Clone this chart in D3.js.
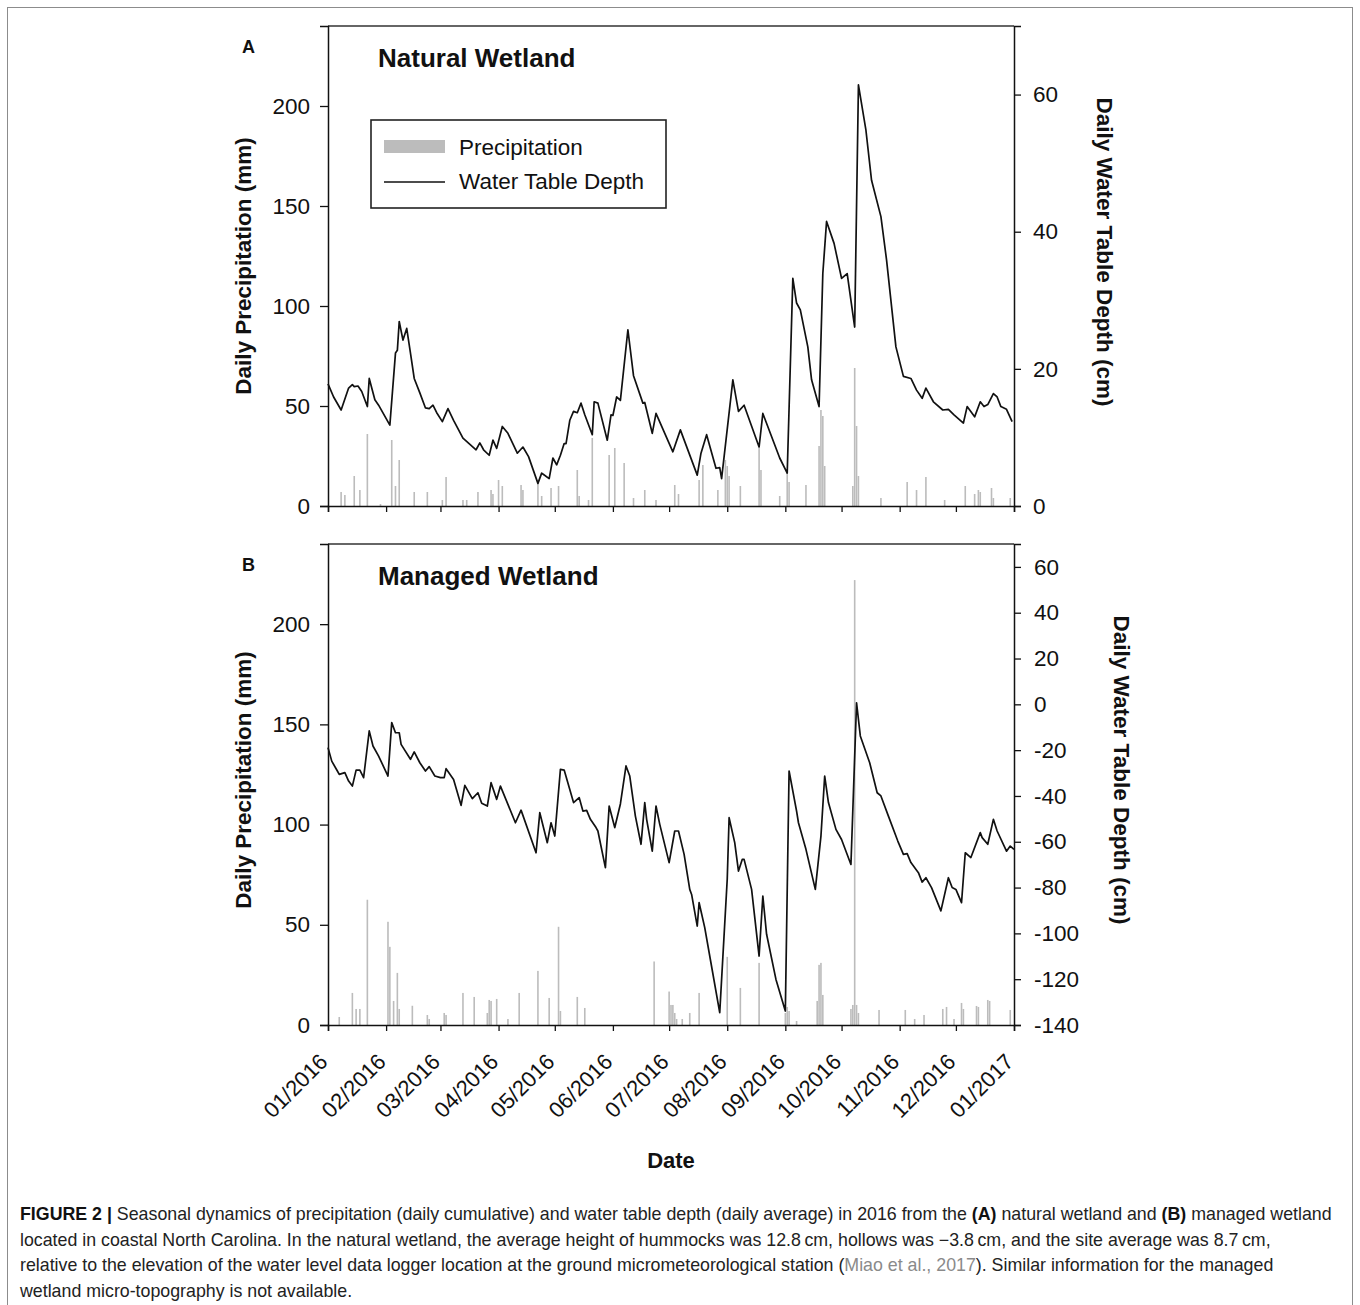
<!DOCTYPE html>
<html>
<head>
<meta charset="utf-8">
<script src="https://cdn.jsdelivr.net/npm/d3@7"></script>
<style>
  html, body { margin: 0; padding: 0; background: #fff; }
  svg { display: block; font-family: "Liberation Sans", Arial, Helvetica, sans-serif; }
</style>
</head>
<body>
<svg id="fig" width="1360" height="1305"></svg>
<script>
// ---- Data -----------------------------------------------------------------
// Daily precipitation (mm): day of year (0 = 1 Jan 2016) and amount.
const precipDaysA = [7, 9, 14, 17, 21, 28, 34, 36, 38, 46, 53, 61, 63, 72, 74, 80, 87, 88, 91, 93,
  103, 104, 112, 114, 119, 123, 133, 134, 139, 141, 150, 153, 158, 163, 169, 175, 185, 187, 198, 200,
  208, 212, 213, 214, 220, 230, 231, 241, 245, 246, 255, 262, 263, 264, 265, 280, 281, 282, 283, 295,
  309, 314, 319, 329, 340, 345, 347, 348, 354, 355, 364];
const precipA = [7, 5.5, 15, 8, 36, 1, 33, 10, 23, 7, 7, 3, 14.5, 3, 3, 7, 8, 6, 13, 10,
  10.5, 8, 11.5, 5, 9, 10, 18, 5, 3, 34, 25.5, 29, 21.5, 4, 8, 3, 10.5, 6, 13, 20.5,
  8, 23, 20, 15, 10, 29, 18, 5, 18, 12, 10.5, 30, 48, 45, 20, 10, 69, 40, 15, 4,
  12, 8, 14.5, 3, 10, 6, 8, 7, 9, 4, 4];

const precipDaysB = [6, 13, 15, 17, 21, 32, 33, 35, 37, 38, 45, 53, 54, 62, 63, 72, 78, 85, 86, 87,
  90, 96, 102, 112, 118, 123, 124, 133, 137, 174, 182, 183, 184, 185, 186, 189, 193, 198, 213, 220,
  230, 244, 245, 246, 250, 261, 262, 263, 264, 279, 280, 281, 282, 283, 294, 308, 313, 318, 328, 330,
  334, 338, 339, 346, 347, 352, 353, 364];
const precipB = [4, 16, 8, 8, 62.5, 51.5, 39, 12, 26, 8, 9.6, 5, 3, 6, 5, 16, 14, 6, 12.5, 12,
  13, 3, 16, 27, 13.5, 49, 7, 14, 8.5, 31.7, 16.7, 10, 10, 6, 3, 3, 6, 16, 34, 18.5,
  31, 6, 9, 7, 2, 12, 30, 31, 15, 8, 10, 222, 10, 6, 7.5, 7.5, 3, 5, 8, 9,
  3, 11, 8, 9.5, 9, 12.5, 12, 7.5];

// Daily average water table depth (cm).
const wtDaysA = [0, 3, 7, 11, 13, 14, 16, 18, 21, 22, 25, 27, 33, 36, 37, 38, 40, 42, 44, 46,
  49, 52, 54, 56, 58, 61, 64, 67, 72, 79, 81, 83, 86, 88, 90, 93, 96, 101, 104, 107,
  112, 114, 115, 118, 120, 122, 124, 126, 127, 129, 131, 133, 135, 137, 141, 142, 144, 149, 151, 152,
  154, 156, 160, 163, 168, 169, 173, 175, 184, 188, 197, 199, 202, 207, 209, 210, 216, 219, 222, 230,
  232, 241, 245, 248, 250, 252, 256, 258, 262, 264, 266, 270, 274, 277, 281, 283, 287, 290, 295, 298,
  303, 307, 311, 314, 317, 319, 323, 328, 331, 334, 339, 341, 345, 348, 350, 352, 355, 357, 359, 362, 365];
const wtA = [17.8, 15.9, 14.0, 17.2, 17.7, 17.4, 17.5, 16.7, 14.5, 18.6, 15.5, 14.7, 11.8, 22.3, 22.7, 26.9, 24.2, 25.9, 22.3, 18.6,
  16.5, 14.3, 14.2, 14.7, 13.6, 12.3, 14.2, 12.5, 9.9, 8.2, 9.2, 8.2, 7.4, 9.6, 8.4, 11.6, 10.6, 7.7, 8.6, 7.2,
  3.3, 4.8, 4.6, 4.0, 7.0, 6.0, 7.4, 9.1, 9.1, 12.5, 13.8, 13.6, 15.0, 13.3, 10.4, 15.2, 15.0, 9.6, 13.3, 13.2,
  15.9, 15.4, 25.7, 19.0, 15.0, 15.1, 10.6, 13.5, 7.9, 11.1, 4.5, 7.7, 10.4, 5.5, 5.6, 4.0, 18.4, 13.8, 14.7, 8.6,
  13.5, 7.0, 4.8, 33.2, 29.6, 28.6, 23.2, 18.4, 14.5, 33.9, 41.5, 38.3, 33.2, 33.9, 26.1, 61.4, 54.8, 47.5, 42.2, 35.9,
  23.2, 18.9, 18.6, 16.9, 15.7, 17.2, 15.2, 14.0, 14.1, 13.3, 12.1, 14.5, 13.0, 15.2, 14.5, 14.8, 16.4, 15.9, 14.5, 14.1, 12.3];

const wtDaysB = [0, 2, 5, 6, 9, 11, 13, 15, 17, 19, 22, 24, 27, 32, 34, 36, 38, 39, 44, 46,
  49, 52, 54, 57, 60, 62, 63, 67, 71, 73, 77, 80, 82, 85, 87, 90, 92, 96, 100, 103,
  111, 113, 117, 119, 121, 124, 126, 131, 134, 136, 138, 140, 143, 144, 148, 150, 153, 156, 159, 161,
  164, 167, 169, 170, 173, 175, 177, 182, 185, 187, 190, 193, 194, 197, 198, 201, 204, 209, 213, 214,
  217, 219, 221, 222, 226, 230, 232, 234, 239, 244, 246, 250, 251, 255, 260, 263, 265, 267, 271, 274,
  279, 282, 284, 289, 293, 295, 299, 304, 307, 309, 311, 315, 317, 319, 322, 327, 331, 333, 335, 338,
  340, 343, 348, 349, 352, 355, 357, 362, 364, 366];
const wtB = [-18.9, -24.8, -29.1, -30.6, -29.8, -33.5, -35.7, -28.7, -28.7, -32.0, -11.6, -18.2, -22.6, -31.3, -8.0, -12.4, -12.4, -17.5, -24.0, -20.8,
  -25.5, -29.1, -27.2, -31.3, -32.0, -32.0, -28.1, -32.8, -44.1, -35.4, -41.2, -38.6, -43.2, -44.4, -34.2, -41.5, -35.7, -43.7, -51.7, -46.2,
  -64.8, -47.3, -60.4, -51.7, -57.5, -28.4, -28.7, -42.9, -40.7, -46.6, -46.3, -50.2, -53.8, -55.3, -71.3, -44.4, -53.8, -43.5, -26.9, -31.3,
  -48.8, -61.1, -42.9, -50.2, -64.1, -44.4, -52.4, -69.1, -55.3, -55.3, -65.5, -80.8, -83.0, -96.8, -86.6, -97.5, -111.4, -134.6, -76.4, -49.5,
  -60.4, -72.8, -67.7, -67.7, -80.8, -109.9, -83.7, -100.4, -120.1, -133.9, -29.1, -46.6, -51.7, -63.3, -80.8, -57.5, -31.3, -42.9, -54.6, -59.0,
  -69.9, 0.7, -13.8, -25.5, -38.6, -40.0, -48.8, -59.7, -65.5, -65.2, -69.1, -73.5, -77.6, -75.7, -80.0, -90.2, -75.7, -80.0, -80.8, -86.6,
  -64.8, -66.9, -56.0, -58.2, -61.1, -50.2, -55.3, -64.1, -61.9, -63.3];

// Axis ticks
const precipTicks = [0, 50, 100, 150, 200];
const wtTicksA = [0, 20, 40, 60];
const wtTicksB = [-140, -120, -100, -80, -60, -40, -20, 0, 20, 40, 60];
const monthLabels = ["01/2016", "02/2016", "03/2016", "04/2016", "05/2016", "06/2016", "07/2016",
  "08/2016", "09/2016", "10/2016", "11/2016", "12/2016", "01/2017"];

// ---- Layout ---------------------------------------------------------------
const svg = d3.select("#fig");
const start = new Date(2016, 0, 1);
const end = new Date(2017, 0, 1);
const dayDate = d => d3.timeDay.offset(start, d);
const months = d3.timeMonth.range(start, d3.timeDay.offset(end, 1));

const x = d3.scaleTime().domain([start, end]).range([328, 1014]);
const FONT_TICK = 22.5;
const BAR_FILL = "#bcbcbc";

// outer figure border
svg.append("rect").attr("x", 7.5).attr("y", 7.5).attr("width", 1345).attr("height", 1320)
  .attr("fill", "none").attr("stroke", "#8c8c8c").attr("stroke-width", 1);

function panel(opt) {
  const g = svg.append("g");
  const yP = d3.scaleLinear().domain([0, 240]).range([opt.bottom, opt.top]);
  const yW = d3.scaleLinear().domain(opt.wtDomain).range([opt.bottom, opt.top]);

  // precipitation bars
  g.append("g").selectAll("rect")
    .data(opt.pDays.map((d, i) => ({ d: dayDate(d), v: opt.pVals[i] })))
    .join("rect")
    .attr("x", p => x(p.d) - 0.8)
    .attr("width", 1.6)
    .attr("y", p => yP(p.v))
    .attr("height", p => yP(0) - yP(p.v))
    .attr("fill", BAR_FILL);

  // water table line
  const line = d3.line().x(p => x(p.d)).y(p => yW(p.v));
  g.append("path")
    .datum(opt.wDays.map((d, i) => ({ d: dayDate(d), v: opt.wVals[i] })))
    .attr("d", line)
    .attr("fill", "none")
    .attr("stroke", "#111")
    .attr("stroke-width", 1.7)
    .attr("stroke-linejoin", "round");

  // top frame line
  g.append("line").attr("x1", x.range()[0]).attr("x2", x.range()[1])
    .attr("y1", opt.top).attr("y2", opt.top)
    .attr("stroke", "#333").attr("stroke-width", 1.5);

  // left axis
  const ax = g.append("g").attr("transform", `translate(${x.range()[0]},0)`)
    .call(d3.axisLeft(yP).tickValues(precipTicks).tickSize(8).tickPadding(10).tickFormat(d => String(d)));
  // right axis
  const ar = g.append("g").attr("transform", `translate(${x.range()[1]},0)`)
    .call(d3.axisRight(yW).tickValues(opt.wTicks).tickSize(7).tickPadding(opt.rightPad).tickFormat(d => String(d)));
  // bottom axis
  const ab = g.append("g").attr("transform", `translate(0,${opt.bottom})`)
    .call(d3.axisBottom(x).tickValues(months).tickSize(6).tickFormat(""));

  [ax, ar, ab].forEach(a => {
    a.select(".domain").attr("stroke", "#111").attr("stroke-width", 1.5);
    a.selectAll(".tick line").attr("stroke", "#111").attr("stroke-width", 1.3);
    a.selectAll(".tick text").attr("font-size", FONT_TICK).attr("fill", "#111")
      .attr("font-family", '"Liberation Sans", Arial, sans-serif');
  });

  // axis titles
  g.append("text")
    .attr("transform", `translate(251,${opt.leftTitleY}) rotate(-90)`)
    .attr("text-anchor", "middle")
    .attr("font-size", 22.5).attr("font-weight", "bold").attr("fill", "#111")
    .text("Daily Precipitation (mm)");
  g.append("text")
    .attr("transform", `translate(${opt.rightTitleX},${opt.rightTitleY}) rotate(90)`)
    .attr("text-anchor", "middle")
    .attr("font-size", 22.5).attr("font-weight", "bold").attr("fill", "#111")
    .text("Daily Water Table Depth (cm)");

  // panel letter and heading
  g.append("text").attr("x", 242).attr("y", opt.top + 27)
    .attr("font-size", 18).attr("font-weight", "bold").attr("fill", "#111").text(opt.letter);
  g.append("text").attr("x", 378).attr("y", opt.top + 41)
    .attr("font-size", 26).attr("font-weight", "bold").attr("fill", "#111").text(opt.title);

  return g;
}

panel({
  top: 26, bottom: 506, wtDomain: [0, 70], wTicks: wtTicksA, rightPad: 12,
  pDays: precipDaysA, pVals: precipA, wDays: wtDaysA, wVals: wtA,
  leftTitleY: 266, rightTitleX: 1097, rightTitleY: 252,
  letter: "A", title: "Natural Wetland"
});

const gB = panel({
  top: 544, bottom: 1025, wtDomain: [-140, 70], wTicks: wtTicksB, rightPad: 13,
  pDays: precipDaysB, pVals: precipB, wDays: wtDaysB, wVals: wtB,
  leftTitleY: 780, rightTitleX: 1114, rightTitleY: 770,
  letter: "B", title: "Managed Wetland"
});

// rotated month labels under panel B
gB.append("g").selectAll("text")
  .data(months.map((m, i) => ({ m, label: monthLabels[i] })))
  .join("text")
  .attr("transform", d => `translate(${x(d.m) + 1},1063) rotate(-45)`)
  .attr("text-anchor", "end")
  .attr("font-size", 22).attr("fill", "#111")
  .text(d => d.label);

svg.append("text").attr("x", 671).attr("y", 1168).attr("text-anchor", "middle")
  .attr("font-size", 22).attr("font-weight", "bold").attr("fill", "#111").text("Date");

// legend (panel A)
const lg = svg.append("g");
lg.append("rect").attr("x", 371).attr("y", 120).attr("width", 295).attr("height", 88)
  .attr("fill", "#fff").attr("stroke", "#222").attr("stroke-width", 1.6);
lg.append("rect").attr("x", 384).attr("y", 140).attr("width", 61).attr("height", 13).attr("fill", BAR_FILL);
lg.append("line").attr("x1", 384).attr("x2", 445).attr("y1", 182).attr("y2", 182)
  .attr("stroke", "#111").attr("stroke-width", 1.7);
lg.append("text").attr("x", 459).attr("y", 155).attr("font-size", 22.5).attr("fill", "#111").text("Precipitation");
lg.append("text").attr("x", 459).attr("y", 189).attr("font-size", 22.5).attr("fill", "#111").text("Water Table Depth");

// caption
const capLines = [
  [["FIGURE 2 | ", "b"], ["Seasonal dynamics of precipitation (daily cumulative) and water table depth (daily average) in 2016 from the ", ""], ["(A)", "b"], [" natural wetland and ", ""], ["(B)", "b"], [" managed wetland", ""]],
  [["located in coastal North Carolina. In the natural wetland, the average height of hummocks was 12.8\u2009cm, hollows was \u22123.8\u2009cm, and the site average was 8.7\u2009cm,", ""]],
  [["relative to the elevation of the water level data logger location at the ground micrometeorological station (", ""], ["Miao et al., 2017", "g"], ["). Similar information for the managed", ""]],
  [["wetland micro-topography is not available.", ""]]
];
const cap = svg.append("g").attr("font-size", 17.8).attr("fill", "#222");
capLines.forEach((ln, i) => {
  const t = cap.append("text").attr("x", 20).attr("y", 1220 + i * 25.5);
  ln.forEach(([s, k]) => {
    const ts = t.append("tspan").text(s);
    if (k === "b") ts.attr("font-weight", "bold").attr("fill", "#111");
    if (k === "g") ts.attr("fill", "#8a8a8a");
  });
});
</script>
</body>
</html>
